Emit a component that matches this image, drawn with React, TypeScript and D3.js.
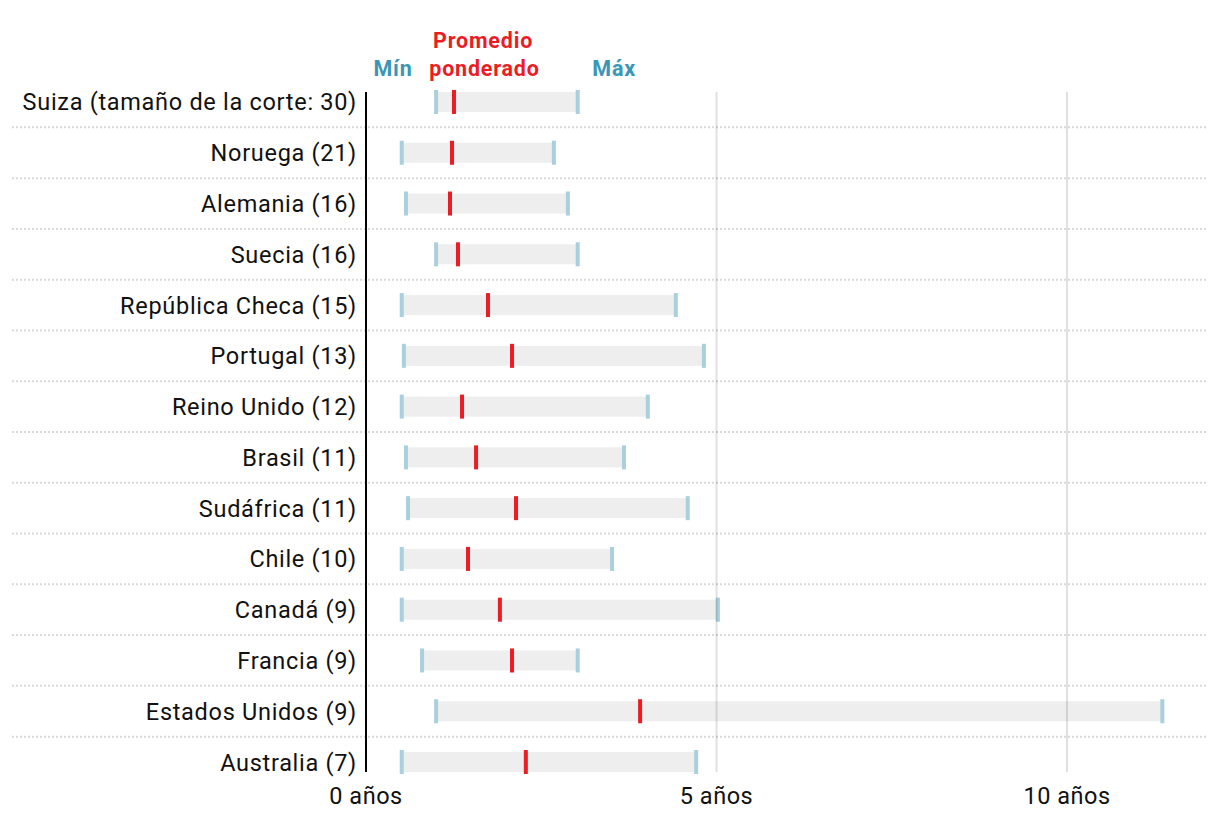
import React from "react";
import * as d3 from "d3";

const countries = [
  "Suiza (tamaño de la corte: 30)",
  "Noruega (21)",
  "Alemania (16)",
  "Suecia (16)",
  "República Checa (15)",
  "Portugal (13)",
  "Reino Unido (12)",
  "Brasil (11)",
  "Sudáfrica (11)",
  "Chile (10)",
  "Canadá (9)",
  "Francia (9)",
  "Estados Unidos (9)",
  "Australia (7)",
];
const minValues = [1.0, 0.51, 0.57, 1.0, 0.51, 0.54, 0.51, 0.57, 0.6, 0.51, 0.51, 0.8, 1.0, 0.51];
const avgValues = [1.255, 1.227, 1.198, 1.312, 1.74, 2.083, 1.37, 1.57, 2.14, 1.455, 1.91, 2.083, 3.91, 2.28];
const maxValues = [3.02, 2.68, 2.88, 3.02, 4.42, 4.82, 4.02, 3.68, 4.59, 3.51, 5.02, 3.02, 11.36, 4.71];
const tickValues = [0, 5, 10];
const tickLabels = ["0 años", "5 años", "10 años"];

const W = 1220;
const H = 818;
const FONT = "Roboto, 'Noto Sans', sans-serif";
const BLUE_TICK = "#a9d0dc";
const RED = "#ec1c24";
const HEAD_BLUE = "#3996b6";

export default function App() {
  const x = d3.scaleLinear().domain([0, 12]).range([366, 366 + 70.1 * 12]);
  const y = d3
    .scaleBand<string>()
    .domain(countries)
    .range([76.6, 787.4])
    .padding(0);
  const bw = y.bandwidth();
  const cy = (c: string) => (y(c) as number) + bw / 2;
  const barH = 20;
  const tickH = 24;
  const tickW = 4;

  return (
    <svg width={W} height={H} style={{ position: "absolute", left: 0, top: 0, background: "#fff" }} fontFamily={FONT}>
      {countries.slice(1).map((c) => (
        <line
          key={"sep" + c}
          x1={12}
          x2={1208}
          y1={y(c) as number}
          y2={y(c) as number}
          stroke="#d9d9d9"
          strokeWidth={2}
          strokeDasharray="2,2"
        />
      ))}
      {countries.map((c, i) => (
        <g key={c}>
          <rect
            x={x(minValues[i])}
            width={x(maxValues[i]) - x(minValues[i])}
            y={cy(c) - barH / 2}
            height={barH}
            fill="#eeeeee"
          />
          <rect x={x(minValues[i]) - tickW / 2} width={tickW} y={cy(c) - tickH / 2} height={tickH} fill={BLUE_TICK} />
          <rect x={x(maxValues[i]) - tickW / 2} width={tickW} y={cy(c) - tickH / 2} height={tickH} fill={BLUE_TICK} />
          <rect x={x(avgValues[i]) - tickW / 2} width={tickW} y={cy(c) - tickH / 2} height={tickH} fill={RED} />
        </g>
      ))}
      {tickValues.slice(1).map((t) => (
        <line key={"g" + t} x1={x(t)} x2={x(t)} y1={92} y2={772} stroke="#000" strokeOpacity={0.12} strokeWidth={2} />
      ))}
      <line x1={x(0)} x2={x(0)} y1={92} y2={772} stroke="#000" strokeWidth={2} />
      {countries.map((c) => (
        <text
          key={"l" + c}
          x={357}
          y={cy(c) + 8.5}
          textAnchor="end"
          fontSize={23.5}
          letterSpacing={0.7}
          fill="#111"
        >
          {c}
        </text>
      ))}
      {tickValues.map((t, i) => (
        <text key={"t" + t} x={x(t)} y={804} textAnchor="middle" fontSize={23.5} letterSpacing={0.5} fill="#111">
          {tickLabels[i]}
        </text>
      ))}
      <g fontSize={21.5} fontWeight="bold" letterSpacing={0.8} textAnchor="middle">
        <text x={x(0.385)} y={76} fill={HEAD_BLUE}>
          Mín
        </text>
        <text x={x(1.67)} y={48} fill={RED}>
          Promedio
        </text>
        <text x={x(1.69)} y={76} fill={RED}>
          ponderado
        </text>
        <text x={x(3.54)} y={76} fill={HEAD_BLUE}>
          Máx
        </text>
      </g>
    </svg>
  );
}
